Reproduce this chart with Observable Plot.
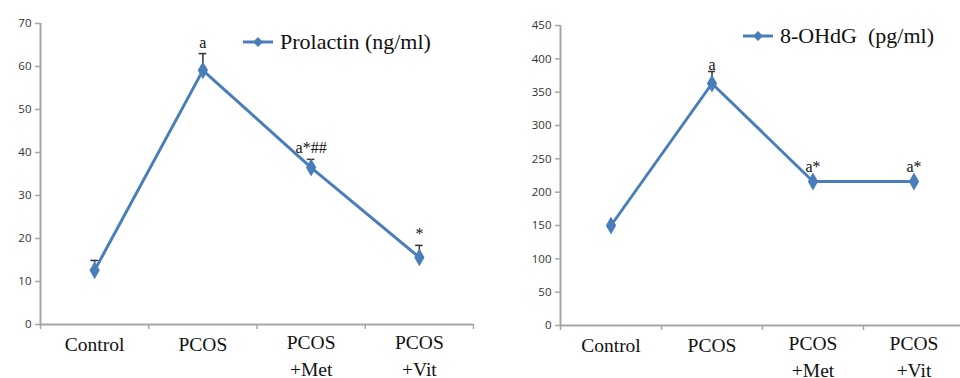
<!DOCTYPE html>
<html><head><meta charset="utf-8">
<script src="https://cdn.jsdelivr.net/npm/d3@7"></script>
<script src="https://cdn.jsdelivr.net/npm/@observablehq/plot@0.6"></script>
<style>
html,body{margin:0;padding:0;background:#fff;overflow:hidden;}
#wrap{position:relative;width:960px;height:378px;overflow:hidden;}
.panel{position:absolute;top:0;width:480px;height:378px;}
.legend{position:absolute;font-family:"Liberation Serif",serif;font-size:22px;color:#111;display:flex;align-items:center;white-space:nowrap;}
.legend svg{margin-right:7px;}
</style></head>
<body><div id="wrap"><div id="p1" class="panel" style="left:0"></div><div id="p2" class="panel" style="left:480px"></div></div>
<script>
const categories = ["Control", "PCOS", "PCOS\n+Met", "PCOS\n+Vit"];
const prolactin = [12.6, 59.1, 36.5, 15.6];
const prolactinErr = [2.3, 3.9, 1.9, 2.8];
const prolactinSig = ["", "a", "a*##", "*"];
const ohdg = [150, 363, 216, 216];
const ohdgErr = [0, 18, 0, 0];
const ohdgSig = ["", "a", "a*", "a*"];
const prolactinTicks = [0,10,20,30,40,50,60,70];
const ohdgTicks = [0,50,100,150,200,250,300,350,400,450];

const BLUE = "#4a7ebb";
const AXIS = "#a6a6a6";
const SERIF = "Liberation Serif";

function build(values, errs, sigs, ticks, opts) {
  const data = categories.map((c, i) => ({c, i: i + 0.5, v: values[i], e: errs[i], top: values[i] + errs[i], s: sigs[i], multi: c.includes("\n")}));
  const sigStyle = {x: "i", y: "top", text: "s", lineAnchor: "bottom", fontFamily: SERIF, fontSize: 16, fill: "#111"};
  return Plot.plot({
    width: 480, height: 378,
    marginLeft: opts.ml, marginTop: opts.mt, marginBottom: opts.mb, marginRight: opts.mr,
    style: {overflow: "visible", background: "transparent"},
    x: {domain: [0, 4], range: opts.xrange, axis: null},
    y: {domain: [0, ticks[ticks.length - 1]], axis: null},
    marks: [
      Plot.axisY({ticks, tickSize: 5, tickPadding: 4, stroke: AXIS, strokeWidth: 1.5, label: null,
        fontFamily: "Open Sans", fontSize: 11.5, fill: "#333", tickFormat: d => d}),
      Plot.axisX({ticks: [0,1,2,3,4], tickSize: 5, tickFormat: () => "", stroke: AXIS, strokeWidth: 1.5, label: null}),
      Plot.ruleY([0], {stroke: AXIS, strokeWidth: 2}),
      Plot.ruleX([0], {stroke: AXIS, strokeWidth: 2}),
      Plot.text(data.filter(d => !d.multi), {x: "i", y: 0, text: "c", lineAnchor: "top", dy: opts.labelDy,
        fontFamily: SERIF, fontSize: 19.5, fill: "#111"}),
      Plot.text(data.filter(d => d.multi), {x: "i", y: 0, text: "c", lineAnchor: "top", dy: opts.labelDy - 7, lineHeight: 1.35,
        fontFamily: SERIF, fontSize: 19.5, fill: "#111"}),
      Plot.ruleX(data.filter(d => d.e > 0), {x: "i", y1: "v", y2: "top", stroke: "#333", strokeWidth: 1.5}),
      Plot.ruleY(data.filter(d => d.e > 0), {y: "top", x1: d => d.i - 0.035, x2: d => d.i + 0.035, stroke: "#333", strokeWidth: 1.5}),
      Plot.line(data, {x: "i", y: "v", stroke: BLUE, strokeWidth: 3}),
      Plot.dot(data, {x: "i", y: "v", symbol: "diamond", r: 4.5, fill: BLUE, stroke: BLUE}),
      Plot.text(data.filter(d => d.e > 0), {...sigStyle, dy: opts.sigDyErr}),
      Plot.text(data.filter(d => d.e === 0), {...sigStyle, dy: opts.sigDyNoErr})
    ]
  });
}

document.getElementById("p1").appendChild(build(prolactin, prolactinErr, prolactinSig, prolactinTicks,
  {ml: 40, mt: 23, mb: 54, mr: 7, xrange: [40, 473], labelDy: 13, sigDyErr: -6, sigDyNoErr: -10}));
document.getElementById("p2").appendChild(build(ohdg, ohdgErr, ohdgSig, ohdgTicks,
  {ml: 80, mt: 25, mb: 53, mr: 0, xrange: [80, 484], labelDy: 13, sigDyErr: -2, sigDyNoErr: -10}));

function legend(parent, left, top, label) {
  const d = document.createElement("div");
  d.className = "legend";
  d.style.left = left + "px"; d.style.top = top + "px";
  d.innerHTML = `<svg width="30" height="12"><line x1="0" y1="6" x2="30" y2="6" stroke="${BLUE}" stroke-width="3"/><path d="M15,1 L20,6 L15,11 L10,6 Z" fill="${BLUE}"/></svg><span>${label}</span>`;
  document.getElementById(parent).appendChild(d);
}
legend("p1", 243, 29, "Prolactin (ng/ml)");
legend("p2", 263, 23, "8-OHdG&nbsp; (pg/ml)");
</script></body></html>
